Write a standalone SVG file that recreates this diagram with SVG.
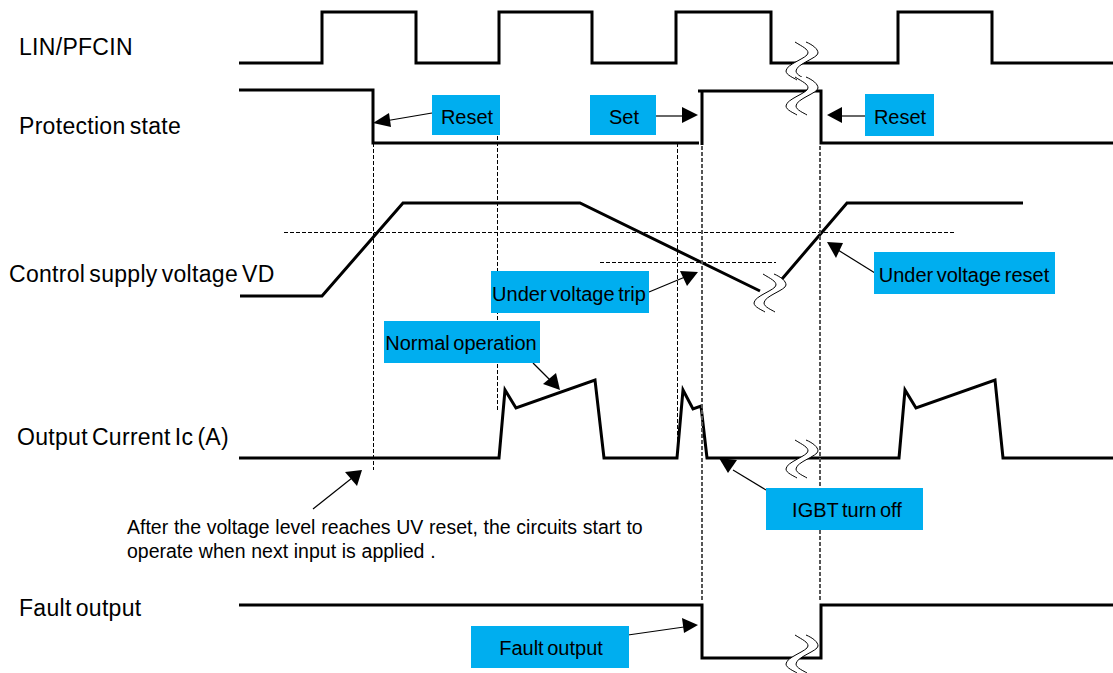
<svg xmlns="http://www.w3.org/2000/svg" width="1113" height="673" viewBox="0 0 1113 673">
<style>
text{font-family:"Liberation Sans",Arial,sans-serif;font-size:20px;word-spacing:-2px;fill:#000}
.lab{font-size:23px;letter-spacing:.3px;word-spacing:-2.6px}
.note{font-size:19.5px;word-spacing:.3px}
.sig{fill:none;stroke:#000;stroke-width:3}
.dash{fill:none;stroke:#000;stroke-width:1;stroke-dasharray:4 2}
.dash2{fill:none;stroke:#555;stroke-width:2;stroke-dasharray:4 2}
.box{fill:#00aeef}
.arr{stroke:#000;stroke-width:1.2;fill:none}
.head{fill:#000}
.brk{fill:#fff;stroke:none}
.brkl{fill:none;stroke:#000;stroke-width:1}
.c{text-anchor:middle}
</style>
<defs>
<g id="brk">
<path class="brk" d="M0 0C8 5 13 7 13 11C13 16-9 22-9 29C-9 33-1 36 2 38L12 38C9 36 1 33 1 29C1 22 23 16 23 11C23 7 18 3 11 0Z"/>
<path class="brkl" d="M0 0C8 5 13 7 13 11C13 16-9 22-9 29C-9 33-1 36 2 38"/>
<path class="brkl" d="M11 0C18 3 23 7 23 11C23 16 1 22 1 29C1 33 9 36 12 38"/>
</g>
</defs>
<rect width="1113" height="673" fill="#fff"/>
<g id="connectors">
<path class="sig" d="M239 63H322V12H416V63H499V12H592V63H676V12H771V63H898V12H992V63H1113"/>
<path class="sig" d="M239 90H373V143H699M702 145V91M698 91H821V143H1113"/>
<path class="sig" d="M240 296H322L403 203H580L760 291"/>
<path class="sig" d="M782 279L847 203H1023"/>
<path class="sig" d="M239 458H499L505 390L516 408L595 380L604 458H677L683 390L693 409L701 406L707 458H899L905 390L916 408L995 380L1003 458H1113"/>
<path class="sig" d="M239 605H702V658H821V605H1113"/>
<path class="dash" d="M373.5 143V470M497.5 100V410M677.5 143V458"/>
<path class="dash" d="M284 232.5H954M600 262.5H776"/>
<path class="dash2" d="M702 146V600M820 146V600"/>
<path class="arr" d="M432 113L385 121"/><path class="head" d="M373 123L389 113L391 127Z"/>
<path class="arr" d="M656 116L684 116"/><path class="head" d="M698 115L682 107V123Z"/>
<path class="arr" d="M865 116H840"/><path class="head" d="M827 115L842 107V123Z"/>
<path class="arr" d="M875 273L838 250"/><path class="head" d="M827 242L843 243L836 258Z"/>
<path class="arr" d="M649 292L685 277"/><path class="head" d="M698 272L687 286L680 271Z"/>
<path class="arr" d="M533 363L552 382"/><path class="head" d="M560 390L543 384L556 373Z"/>
<path class="arr" d="M766 490L733 470"/><path class="head" d="M719 458L737 460L728 473Z"/>
<path class="arr" d="M313 509L352 478"/><path class="head" d="M362 470L357 486L345 472Z"/>
<path class="arr" d="M628 635L684 627"/><path class="head" d="M698 625L682 618L684 633Z"/>
</g>
<g id="breaks">
<use href="#brk" x="795" y="42"/>
<use href="#brk" x="795" y="77"/>
<use href="#brk" x="763" y="274"/>
<use href="#brk" x="795" y="440"/>
<use href="#brk" x="795" y="635"/>
</g>
<g id="label-lin"><text class="lab" x="19" y="55">LIN/PFCIN</text></g>
<g id="label-prot"><text class="lab" x="19" y="134">Protection state</text></g>
<g id="label-vd"><text class="lab" x="9" y="282">Control supply voltage VD</text></g>
<g id="label-ic"><text class="lab" x="17" y="445">Output Current Ic (A)</text></g>
<g id="label-fault"><text class="lab" x="19" y="616">Fault output</text></g>
<g id="note"><text class="note" x="127" y="534">After the voltage level reaches UV reset, the circuits start to</text><text class="note" x="127" y="558">operate when next input is applied .</text></g>
<g id="reset1"><rect class="box" x="432" y="95" width="68" height="40"/><text class="c" x="467" y="124">Reset</text></g>
<g id="set"><rect class="box" x="590" y="95" width="66" height="40"/><text class="c" x="624" y="124">Set</text></g>
<g id="reset2"><rect class="box" x="865" y="94" width="69" height="42"/><text class="c" x="900" y="124">Reset</text></g>
<g id="uvreset"><rect class="box" x="874" y="252" width="181" height="42"/><text class="c" x="964" y="282">Under voltage reset</text></g>
<g id="uvtrip"><rect class="box" x="491" y="271" width="158" height="42"/><text class="c" x="569" y="301">Under voltage trip</text></g>
<g id="normal"><rect class="box" x="384" y="321" width="156" height="42"/><text class="c" x="461" y="350">Normal operation</text></g>
<g id="igbt"><rect class="box" x="766" y="488" width="157" height="42"/><text class="c" x="847" y="517">IGBT turn off</text></g>
<g id="faultbox"><rect class="box" x="471" y="626" width="158" height="42"/><text class="c" x="551" y="655">Fault output</text></g>
</svg>
